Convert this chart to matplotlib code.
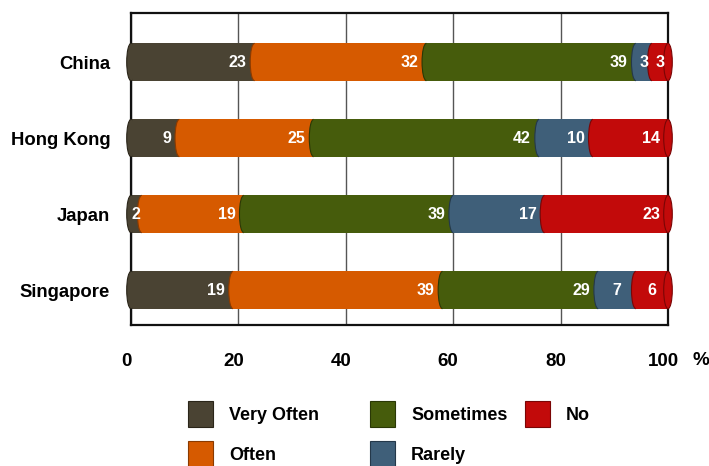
import matplotlib.pyplot as plt
import matplotlib.transforms as mtransforms
import numpy as np
from matplotlib.patches import Ellipse, Arc, Rectangle

plt.rcParams['font.family'] = ['Liberation Sans', 'DejaVu Sans']
plt.rcParams['font.weight'] = 'bold'

countries = ['China', 'Hong Kong', 'Japan', 'Singapore']
categories = ['Very Often', 'Often', 'Sometimes', 'Rarely', 'No']
very_often = [23, 9, 2, 19]
often = [32, 25, 19, 39]
sometimes = [39, 42, 39, 29]
rarely = [3, 10, 17, 7]
no = [3, 14, 23, 6]
x_ticks = [0, 20, 40, 60, 80, 100]

colors = ['#4a4333', '#d65a00', '#465c0c', '#3f5f79', '#c20a0a']
edge_colors = ['#2a2519', '#8a3a00', '#2a3806', '#24384a', '#7a0505']

W, H = 709, 466
fig = plt.figure(figsize=(W / 100, H / 100), dpi=100)
ax = fig.add_axes([131 / W, 1 - 325 / H, 537 / W, 312 / H])

y = np.arange(len(countries))
h = 0.49
cap = 1.6  # width of the elliptical faces, in percent units
series = [very_often, often, sometimes, rarely, no]
left = np.zeros(len(countries))
for vals, c, ec in zip(series, colors, edge_colors):
    vals = np.array(vals, dtype=float)
    ax.barh(y, vals, left=left, height=h, color=c, zorder=2)
    for yi, l, v in zip(y, left, vals):
        ax.add_patch(Ellipse((l, yi), cap, h, facecolor=c, edgecolor='none',
                             zorder=3, clip_on=False))
        ax.add_patch(Arc((l, yi), cap, h, theta1=90, theta2=270, color=ec,
                         lw=0.8, zorder=3.5, clip_on=False))
        if v >= 9:
            ax.text(l + v - 1.5, yi, f'{v:.0f}', ha='right', va='center',
                    color='white', fontsize=11.5, fontweight='bold', zorder=5)
        else:
            ax.text(l + v / 2, yi, f'{v:.0f}', ha='center', va='center',
                    color='white', fontsize=11.5, fontweight='bold', zorder=5)
    left += vals

# end face of each cylinder
for yi, tot in zip(y, left):
    ax.add_patch(Ellipse((tot, yi), cap, h, facecolor=colors[-1],
                         edgecolor=edge_colors[-1], lw=0.8, zorder=4, clip_on=False))

ax.set_xlim(0, 100)
ax.set_ylim(3.46, -0.645)
ax.set_xticks(x_ticks)
ax.set_xticklabels([str(t) for t in x_ticks], fontsize=13.5, fontweight='bold')
ax.set_yticks(y)
ax.set_yticklabels(countries, fontsize=13.3, fontweight='bold')
ax.tick_params(axis='x', length=0, pad=20)
ax.tick_params(axis='y', length=0, pad=15)
shift = mtransforms.ScaledTranslation(-5 / 100, 0, fig.dpi_scale_trans)
for lbl in ax.get_xticklabels():
    lbl.set_transform(lbl.get_transform() + shift)
ax.xaxis.grid(True, color='#555555', lw=1.0, zorder=1)
ax.set_axisbelow(True)
for s in ax.spines.values():
    s.set_linewidth(1.6)
    s.set_color('#111111')

fig.text(701 / W, 1 - 360.5 / H, '%', ha='center', va='center',
         fontsize=13.5, fontweight='bold')

# legend laid out in pixel positions
legend_pos = [(188, 401, 229), (188, 441, 229), (370, 401, 411),
              (370, 441, 411), (525, 401, 566)]
for (px, py, tx), lab, c, ec in zip(legend_pos, categories, colors, edge_colors):
    fig.add_artist(Rectangle((px / W, 1 - (py + 26) / H), 25 / W, 26 / H,
                             facecolor=c, edgecolor=ec, lw=0.8,
                             transform=fig.transFigure))
    fig.text(tx / W, 1 - (py + 14) / H, lab, ha='left', va='center',
             fontsize=13, fontweight='bold')

fig.savefig('out.png', dpi=100)
